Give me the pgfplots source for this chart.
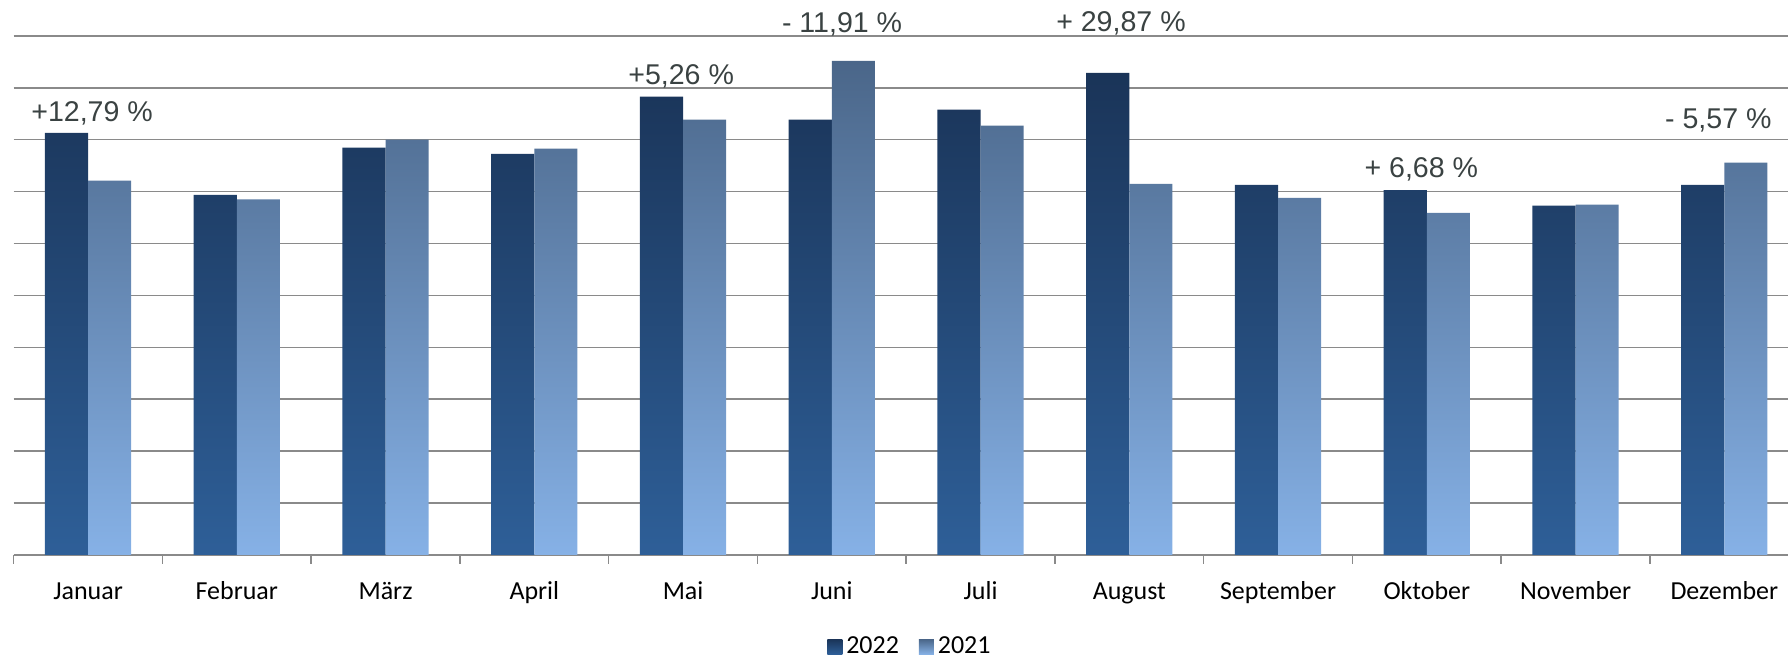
\documentclass[border=0pt]{standalone}
\usepackage{fontspec}
\setmainfont{Carlito}
\newfontfamily\arialfont{Liberation Sans}
\usepackage{pgfplots}
\usepackage{pgfplotstable}
\pgfplotsset{compat=1.18}
\definecolor{ngtop}{RGB}{26,52,88}
\definecolor{ngbot}{RGB}{46,95,152}
\definecolor{lgtop}{RGB}{74,102,137}
\definecolor{lgbot}{RGB}{134,177,230}
\definecolor{gridc}{RGB}{138,138,138}
\definecolor{pct}{RGB}{58,66,66}

\pgfplotstableread{
x y
0 8.13
1 6.94
2 7.85
3 7.73
4 8.83
5 8.39
6 8.58
7 9.29
8 7.13
9 7.03
10 6.73
11 7.13
}\tabA
\pgfplotstableread{
x y
0 7.21
1 6.85
2 8.00
3 7.83
4 8.39
5 9.52
6 8.27
7 7.15
8 6.88
9 6.59
10 6.75
11 7.56
}\tabB

\begin{document}
\begin{tikzpicture}
\begin{axis}[
  scale only axis, width=888.5pt, height=259.85pt,
  xmin=-0.5, xmax=11.43, ymin=0, ymax=10,
  axis line style={draw=none},
  ytick={0,1,...,10}, yticklabels={},
  ymajorgrids, major grid style={gridc, line width=0.75pt},
  xtick={0,1,...,11},
  xticklabels={Januar,Februar,März,April,Mai,Juni,Juli,August,September,Oktober,November,Dezember},
  minor xtick={-0.5,0.5,...,10.5},
  xtick pos=bottom, xtick align=outside,
  tick style={gridc, line width=0.75pt},
  major tick length=0pt, minor tick length=4.3pt,
  xticklabel style={font=\fontsize{13}{13}\selectfont, anchor=base, yshift=-22.2pt},
  ybar, bar width=0.29,
  clip=false,
  legend columns=2,
  legend style={at={(0.5056,-0.177)}, anchor=center, draw=none, fill=none, overlay,
    font=\fontsize{13}{13}\selectfont,
    /tikz/every even column/.append style={column sep=8pt}},
]
\addplot[bar shift=-0.145, draw=none, top color=ngtop, bottom color=ngbot,
  legend image code/.code={\shade[top color=ngtop,bottom color=ngbot] (0pt,-3.75pt) rectangle (7.5pt,3.75pt);}]
  table[x=x,y=y] {\tabA};
\addplot[bar shift=0.145, draw=none, top color=lgtop, bottom color=lgbot,
  legend image code/.code={\shade[top color=lgtop,bottom color=lgbot] (0pt,-3.75pt) rectangle (7.5pt,3.75pt);}]
  table[x=x,y=y] {\tabB};
\legend{2022,2021}
\begin{scope}[every node/.style={font=\arialfont\fontsize{14.3}{14.3}\selectfont, text=pct, inner sep=0pt}]
\node at (axis cs:0.027,8.51) {+12,79 \%};
\node at (axis cs:3.987,9.23) {+5,26 \%};
\node at (axis cs:5.069,10.23) {- 11,91 \%};
\node at (axis cs:6.944,10.24) {+ 29,87 \%};
\node at (axis cs:8.963,7.43) {+ 6,68 \%};
\node at (axis cs:10.96,8.38) {- 5,57 \%};
\end{scope}
\path ([shift={(-5.7pt,-51.15pt)}]rel axis cs:0,0) rectangle ([shift={(0pt,18pt)}]rel axis cs:1,1);
\end{axis}
\end{tikzpicture}
\end{document}
